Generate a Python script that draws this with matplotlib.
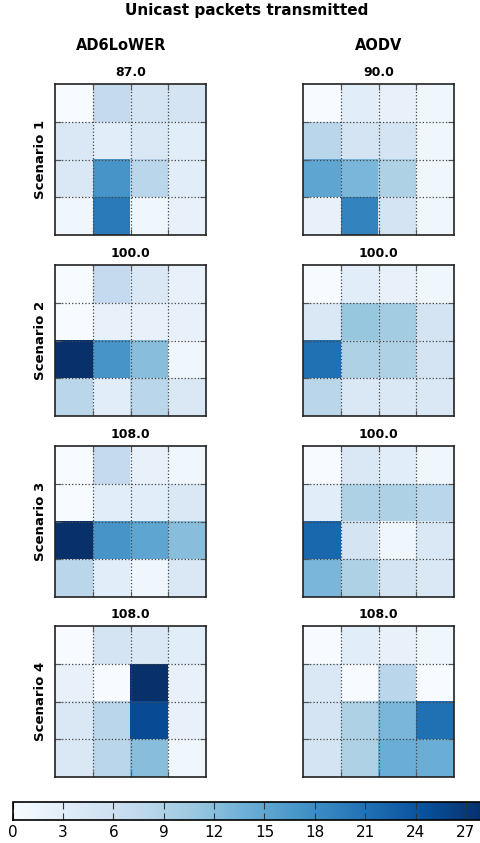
import numpy as np
import matplotlib
matplotlib.use('Agg')
import matplotlib.pyplot as plt

# cell values (rows top to bottom)
protocols = ['AD6LoWER', 'AODV']
scenarios = ['Scenario 1', 'Scenario 2', 'Scenario 3', 'Scenario 4']

ad6_s1 = [[0, 7, 5, 5], [4, 3, 4, 3], [4, 17, 8, 3], [1, 20, 1, 2]]
aodv_s1 = [[0, 3, 2, 1], [8, 5, 5, 1], [15, 13, 9, 1], [2, 19, 5, 1]]
ad6_s2 = [[0, 7, 4, 2], [0, 2, 2, 2], [28, 17, 12, 1], [8, 3, 8, 4]]
aodv_s2 = [[0, 3, 2, 1], [4, 11, 10, 5], [21, 9, 9, 5], [8, 4, 4, 4]]
ad6_s3 = [[0, 7, 2, 1], [0, 3, 3, 4], [28, 17, 15, 12], [8, 3, 1, 4]]
aodv_s3 = [[0, 4, 3, 1], [3, 9, 9, 8], [22, 5, 1, 4], [13, 9, 5, 4]]
ad6_s4 = [[0, 5, 4, 3], [2, 0, 28, 2], [4, 8, 25, 2], [4, 8, 12, 1]]
aodv_s4 = [[0, 3, 2, 1], [4, 0, 8, 0], [5, 9, 13, 21], [5, 9, 14, 14]]

grids = [[ad6_s1, aodv_s1], [ad6_s2, aodv_s2], [ad6_s3, aodv_s3], [ad6_s4, aodv_s4]]
vmax = 28
cbar_ticks = list(range(0, 28, 3))

W, H = 480, 843
fig = plt.figure(figsize=(W / 100, H / 100), dpi=100)

def px_axes(x0, y0, w, h):
    return fig.add_axes([x0 / W, 1 - (y0 + h) / H, w / W, h / H])

col_x = [55, 303]
row_y = [84, 265, 446, 626]
size = 151

im = None
for r in range(4):
    for c in range(2):
        data = np.array(grids[r][c], dtype=float)
        ax = px_axes(col_x[c], row_y[r], size, size)
        im = ax.imshow(data, cmap='Blues', vmin=0, vmax=vmax, interpolation='nearest')
        ax.set_xticks([0.5, 1.5, 2.5])
        ax.set_yticks([0.5, 1.5, 2.5])
        ax.set_xticklabels([])
        ax.set_yticklabels([])
        ax.tick_params(direction='in', length=4, top=True, right=True, color='#555555')
        ax.grid(True, linestyle=':', color='#444444', linewidth=0.9)
        for s in ax.spines.values():
            s.set_linewidth(1.2)
            s.set_color('#222222')
        ax.set_title('%.1f' % data.sum(), fontsize=9, fontweight='bold', pad=6)
        if c == 0:
            ax.set_ylabel(scenarios[r], fontsize=9.5, fontweight='bold', labelpad=2)

fig.text(247 / W, 1 - 11 / H, 'Unicast packets transmitted', ha='center', va='center',
         fontsize=11, fontweight='bold')
for c in range(2):
    fig.text((col_x[c] + size / 2 - 9 * (c == 0)) / W, 1 - 45 / H, protocols[c],
             ha='center', va='center', fontsize=10.5, fontweight='bold')

# colorbar runs past the right edge like the reference
unit = (466 - 12.5) / 27.0
cax = px_axes(12.5, 802, unit * vmax, 18)
cb = fig.colorbar(im, cax=cax, orientation='horizontal', ticks=cbar_ticks)
cb.ax.tick_params(direction='in', length=5, top=True, labelsize=11, color='#333333')
cb.outline.set_linewidth(1.2)

fig.savefig('out.png', dpi=100)
